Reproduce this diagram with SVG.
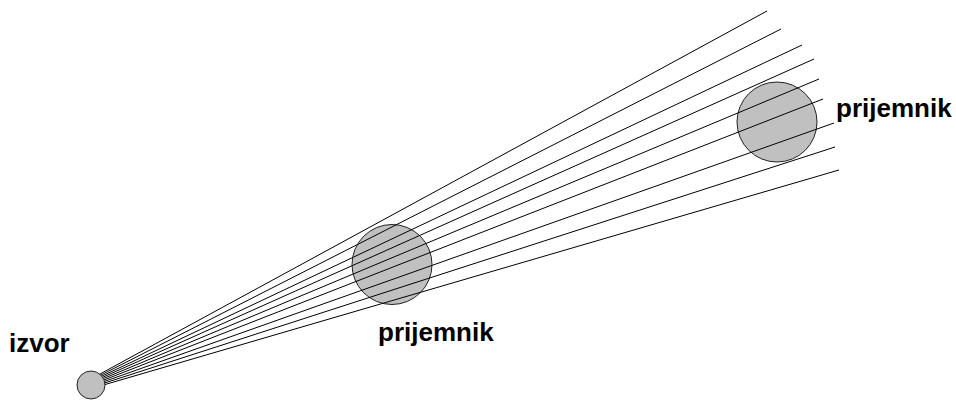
<svg xmlns="http://www.w3.org/2000/svg" width="956" height="400" viewBox="0 0 956 400">
<style>
.ray{stroke:#000;stroke-width:1;fill:none}
.body{fill:#c0c0c0;stroke:#222;stroke-width:1}
.lbl{font-family:"Liberation Sans",Arial,sans-serif;font-weight:bold;font-size:26px;fill:#000}
</style>
<rect width="956" height="400" fill="#fff"/>
<g id="receiver-near"><circle class="body" cx="392" cy="264.5" r="40"/></g>
<g id="receiver-far"><circle class="body" cx="777" cy="122" r="40"/></g>
<g id="connectors">
<line class="ray" x1="100" y1="374" x2="767" y2="11"/>
<line class="ray" x1="100" y1="375.5" x2="781" y2="29"/>
<line class="ray" x1="100" y1="377" x2="802" y2="45"/>
<line class="ray" x1="100" y1="378.5" x2="814" y2="59"/>
<line class="ray" x1="100" y1="380" x2="819" y2="79"/>
<line class="ray" x1="100" y1="381.5" x2="823" y2="99"/>
<line class="ray" x1="100" y1="383" x2="834" y2="123"/>
<line class="ray" x1="100" y1="384.5" x2="835" y2="147"/>
<line class="ray" x1="100" y1="386" x2="839" y2="170"/>
</g>
<g id="source"><circle class="body" cx="91" cy="385" r="14"/></g>
<text class="lbl" x="9" y="352">izvor</text>
<text class="lbl" x="378" y="341">prijemnik</text>
<text class="lbl" x="836" y="117">prijemnik</text>
</svg>
